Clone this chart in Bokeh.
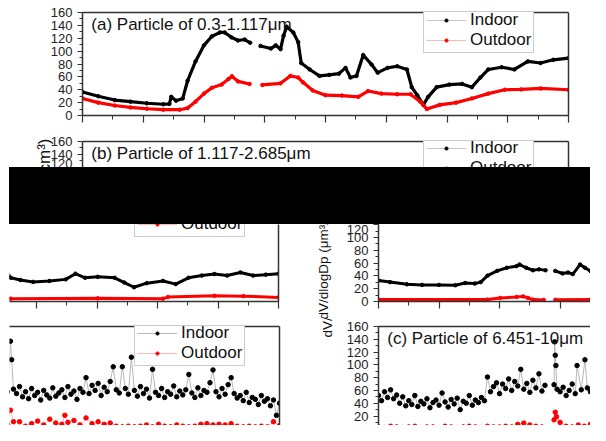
import math
from bokeh.plotting import figure
from bokeh.models import (Range1d, LinearAxis, SingleIntervalTicker, FixedTicker, Label, Title,
                          Legend, LegendItem, ColumnDataSource, Div, Spacer, CustomJSTickFormatter)
from bokeh.layouts import column, row
from bokeh.embed import file_html
from bokeh.resources import INLINE

nan = float("nan")

# ---------------- data ----------------
SERIES = ["Indoor", "Outdoor"]
TITLES = ["(a) Particle of 0.3-1.117\u03bcm", "(b) Particle of 1.117-2.685\u03bcm", "(c) Particle of 6.451-10\u03bcm"]
Y_LABEL = "dV/dlogDp (\u03bcm\u00b3/cm\u00b3)"

A_IN_T = [0.00, 0.26, 0.53, 0.79, 1.06, 1.33, 1.43, 1.46, 1.54, 1.65, 1.73, 1.86, 2.00, 2.13, 2.26, 2.34,
          2.45, 2.56, 2.67, 2.76, 2.80, 2.93, 3.10, 3.18, 3.26, 3.31, 3.36, 3.47, 3.55, 3.60, 3.74, 3.90,
          4.06, 4.22, 4.33, 4.41, 4.51, 4.62, 4.76, 4.86, 5.02, 5.18, 5.34, 5.42, 5.51, 5.61, 5.69, 5.83,
          6.04, 6.25, 6.41, 6.55, 6.68, 6.90, 7.11, 7.33, 7.54, 7.75, 8.00]
A_IN = [36.5, 30, 24, 21.5, 19, 17.5, 18, 29, 23, 26.5, 54, 84, 109, 123, 129, 129,
        121.5, 116.5, 118, 113, nan, 108, 104, 109, 103, 124, 138, 129, 114, 81.5, 71.5, 61.5,
        63, 65, 74, 59, 61.5, 94, 79, 66.5, 74, 76.5, 71.5, 44, 31.5, 16.5, 29, 44,
        48, 49, 44, 59, 71.5, 75, 71.5, 84, 81.5, 86.5, 89]
A_OUT_T = [0.00, 0.26, 0.53, 0.79, 1.06, 1.33, 1.60, 1.73, 1.86, 2.00, 2.13, 2.29, 2.40, 2.46, 2.56, 2.75,
           2.80, 2.96, 3.26, 3.42, 3.55, 3.63, 3.79, 4.00, 4.27, 4.54, 4.70, 4.92, 5.18, 5.40, 5.56, 5.67,
           5.88, 6.15, 6.41, 6.68, 6.95, 7.22, 7.54, 8.00]
A_OUT = [26.5, 20, 15.5, 12.5, 10.5, 9, 9, 11.5, 21.5, 34, 43, 48, 56.5, 61, 53, 49,
         nan, 47.5, 50, 61.5, 59, 51.5, 39, 31.5, 31, 29, 38, 34, 33, 33, 21.5, 10,
         16.5, 20, 26.5, 34, 40, 40.5, 42, 40]

B_IN_T = [0.00, 0.19, 0.47, 0.72, 1.00, 1.27, 1.43, 1.59, 1.69, 1.80, 1.96, 2.12, 2.28, 2.33, 2.44, 2.55,
          2.65, 2.76, 2.82, 2.92, 3.04, 3.13, 3.21, 3.33, 3.41, 3.50, 3.57, 3.73, 3.94, 4.21, 4.48, 4.64,
          4.80, 5.01, 5.29, 5.45, 5.61, 5.82, 6.09, 6.30, 6.51, 6.73, 6.94, 7.15, 7.37, 7.58, 7.79, 8.00]
B_IN = [32.8, 30.3, 26.9, 25.9, 25.9, 25.4, 28.9, 28, 30.3, 40.3, 47.8, 52.7, 55.2, 57.7, 52.7, 48.8,
        50.2, 48.8, nan, 47.8, 43.8, 45.3, 42.8, 57.7, 52.7, 47.8, 37.5, 34, 31, 32.5, 35, 44,
        37.5, 39, 37.5, 30, 22.5, 29, 32.5, 27.5, 37.5, 41, 43.5, 41, 46, 41, 42.5, 44]
B_OUT_T = [0.00, 1.80, 2.01, 2.28, 2.39, 2.47, 2.55, 2.73, 2.82, 2.92, 3.50, 3.57, 5.01, 6.09, 6.17, 6.94, 7.42, 8.00]
B_OUT = [3, 3, 5.5, 7, 8, 5.5, 3, 2.5, nan, 2.7, 3, 4.5, 5, 4.5, 7, 9, 8.5, 6.5]

C_IN_T = [0.00, 0.05, 0.10, 0.15, 0.20, 0.25, 0.30, 0.35, 0.40, 0.45, 0.50, 0.55, 0.60, 0.65, 0.70, 0.75,
          0.80, 0.85, 0.90, 0.95, 1.00, 1.05, 1.10, 1.15, 1.20, 1.25, 1.30, 1.35, 1.40, 1.45, 1.50, 1.55,
          1.60, 1.65, 1.70, 1.75, 1.80, 1.85, 1.90, 1.95, 2.00, 2.05, 2.10, 2.15, 2.20, 2.25, 2.30, 2.35,
          2.40, 2.45, 2.50, 2.55, 2.60, 2.65, 2.70, 2.75, 2.82, 2.90, 2.91, 2.92, 2.93, 2.95, 3.00, 3.05,
          3.10, 3.15, 3.20, 3.25, 3.28, 3.35, 3.41, 3.45, 3.50, 3.55, 3.57, 3.60,
          3.65, 3.70, 3.75, 3.80, 3.85, 3.90, 3.95, 4.00, 4.05, 4.10, 4.15, 4.20, 4.25, 4.30, 4.35, 4.40,
          4.45, 4.50, 4.55, 4.60, 4.65, 4.70, 4.75, 4.80, 4.85, 4.90, 4.95, 5.00, 5.05, 5.10, 5.15, 5.20,
          5.25, 5.30, 5.35, 5.40, 5.45, 5.50, 5.55, 5.60, 5.65, 5.70, 5.75, 5.80, 5.85, 5.90, 5.95, 6.00,
          6.05, 6.10, 6.15, 6.20, 6.25, 6.30, 6.35, 6.40, 6.45, 6.50, 6.55, 6.60, 6.65, 6.70, 6.75, 6.80,
          6.85, 6.90, 6.95, 7.00, 7.05, 7.10, 7.15, 7.20, 7.25, 7.30, 7.35, 7.40, 7.45, 7.50, 7.55, 7.60,
          7.65, 7.70, 7.75, 7.80, 7.85, 7.90, 7.95, 8.00]
C_IN = [52, 44, 58, 49, 61, 47, 53, 40, 50, 36, 44, 38, 52, 35, 43, 39,
        47, 33, 41, 45, 37, 56, 42, 34, 46, 39, 48, 30, 43, 40, 52, 37,
        45, 41, 49, 44, 81, 58, 66, 72, 55, 70, 63, 78, 60, 74, 67, 93,
        62, 71, 57, 76, 64, 86, 59, 68, nan, 69, 136, 115, 99, 62, 58, 65,
        52, 60, 70, 55, 99, 61, 108, 64, 58, 137, 108, 62,
        55, 66, 50, 58, 47, 63, 52, 57, 45, 60, 53, 48, 64, 51, 56, 61,
        49, 66, 54, 59, 46, 63, 57, 80, 55, 68, 60, 71, 52, 65, 58, 74,
        97, 61, 56, 97, 63, 54, 112, 60, 51, 66, 55, 62, 48, 93, 57, 52,
        63, 49, 58, 54, 67, 50, 59, 53, 61, 85, 56, 49, 64, 52, 60, 57,
        72, 92, 58, 50, 63, 54, 69, 80, 55, 48, 52, 44, 57, 41, 49, 46,
        38, 52, 43, 47, 36, 45, 21, 40]
C_OUT_T = [0.0, 0.1, 0.2, 0.3, 0.4, 0.5, 0.6, 0.7, 0.8, 0.9, 1.0, 1.1, 1.2, 1.3, 1.4, 1.5,
           1.6, 1.7, 1.8, 1.9, 2.0, 2.1, 2.2, 2.3, 2.4, 2.5, 2.6, 2.7, 2.82, 2.90, 2.92, 2.94,
           3.0, 3.1, 3.2, 3.3, 3.4, 3.5, 3.55, 3.6, 3.7, 3.8, 3.9, 4.0, 4.1, 4.2, 4.3, 4.4,
           4.45, 4.5, 4.6, 4.7, 4.8, 4.9, 5.0, 5.1, 5.2, 5.3, 5.4, 5.5, 5.6, 5.7, 5.8, 5.9,
           6.0, 6.1, 6.2, 6.3, 6.4, 6.5, 6.6, 6.7, 6.8, 6.9, 7.0, 7.1, 7.2, 7.3, 7.4, 7.5,
           7.6, 7.7, 7.8, 7.9, 8.0]
C_OUT = [3, 2, 4, 3, 2, 3, 4, 2, 3, 3, 2, 4, 3, 2, 3, 4,
         3, 2, 4, 3, 3, 4, 3, 7, 9, 6, 4, 3, nan, 14, 26, 19,
         10, 4, 3, 6, 4, 7, 29, 11, 11, 4, 8, 12, 6, 15, 9, 7,
         21, 10, 13, 6, 17, 8, 11, 7, 9, 4, 3, 4, 3, 4, 6, 3,
         7, 4, 3, 6, 4, 3, 4, 7, 8, 6, 7, 6, 8, 4, 3, 4,
         3, 4, 3, 11, 5]

# ---------------- geometry helpers ----------------
SX = 590 / 606
SY = 425 / 441
FONT = "Liberation Sans"
AXC = "#333333"


def sx(v):
    return int(round(v * SX))


def sy(v):
    return int(round(v * SY))


def make_fig(box, frame, xr, yr):
    x0, y0, x1, y1 = box
    fl, ft, fr, fb = frame
    p = figure(width=sx(x1) - sx(x0), height=sy(y1) - sy(y0),
               x_range=Range1d(*xr), y_range=Range1d(*yr),
               x_axis_type=None, y_axis_type=None,
               output_backend="svg", toolbar_location=None,
               min_border_left=sx(fl) - sx(x0), min_border_right=sx(x1) - sx(fr),
               min_border_top=sy(ft) - sy(y0), min_border_bottom=sy(y1) - sy(fb))
    p.outline_line_color = None
    p.background_fill_color = "white"
    p.border_fill_color = "white"
    return p


def y_axis(p):
    ax = LinearAxis(ticker=SingleIntervalTicker(interval=20, num_minor_ticks=2))
    ax.axis_line_color = AXC
    ax.axis_line_width = 1.5
    ax.major_tick_line_color = AXC
    ax.major_tick_line_width = 1.2
    ax.minor_tick_line_color = AXC
    ax.major_tick_in = 0
    ax.major_tick_out = 5
    ax.minor_tick_in = 0
    ax.minor_tick_out = 3
    ax.major_label_standoff = 5
    ax.major_label_text_font = FONT
    ax.major_label_text_font_size = "13px"
    ax.major_label_text_color = "#222222"
    p.add_layout(ax, "left")


def x_axis(p):
    ax = LinearAxis(ticker=SingleIntervalTicker(interval=1, num_minor_ticks=2),
                    formatter=CustomJSTickFormatter(code="return ''"))
    ax.axis_line_color = AXC
    ax.axis_line_width = 1.5
    ax.major_tick_line_color = AXC
    ax.major_tick_line_width = 1.2
    ax.minor_tick_line_color = AXC
    ax.major_tick_in = 0
    ax.major_tick_out = 7
    ax.minor_tick_in = 0
    ax.minor_tick_out = 4
    ax.major_label_standoff = 0
    p.add_layout(ax, "below")


def edge(p, side):
    ax = LinearAxis(ticker=FixedTicker(ticks=[]))
    ax.axis_line_color = AXC
    ax.axis_line_width = 1.5
    ax.major_label_standoff = 0
    p.add_layout(ax, side)


def thick_series(p, t, v, color, light, width):
    src = ColumnDataSource(dict(t=t, v=v))
    thin = p.line("t", "v", source=src, line_color=light, line_width=1)
    p.line("t", "v", source=src, line_color=color, line_width=width)
    dots = p.scatter("t", "v", source=src, marker="circle", size=3.5, color=color)
    return [thin, dots]


def dot_series(p, t, v, color, light):
    src = ColumnDataSource(dict(t=t, v=v))
    thin = p.line("t", "v", source=src, line_color=light, line_width=1)
    dots = p.scatter("t", "v", source=src, marker="circle", size=4.5, color=color)
    return [thin, dots]


def legend(p, items, frame_lb, box_lb):
    loc = (sx(box_lb[0]) - sx(frame_lb[0]), sy(frame_lb[1]) - sy(box_lb[1]))
    leg = Legend(items=[LegendItem(label=l, renderers=r) for l, r in zip(SERIES, items)],
                 location=loc, orientation="vertical", margin=0, padding=2, spacing=0,
                 border_line_color="#9a9a9a", border_line_width=1,
                 background_fill_color="white", background_fill_alpha=1.0,
                 label_text_font=FONT, label_text_font_size="17px", label_text_color="#111111",
                 glyph_width=40, glyph_height=8, label_height=19, label_standoff=4)
    p.add_layout(leg)


def text(p, x, y, s, size):
    p.add_layout(Label(x=x, y=y, text=s, text_font=FONT, text_font_size=size,
                       text_color="#111111", text_align="left", text_baseline="middle"))


def side_label(p, align, offset, standoff, size, valign="top"):
    p.add_layout(Title(text=Y_LABEL, align=align, offset=offset, standoff=standoff,
                       vertical_align=valign, text_font=FONT, text_font_size=size,
                       text_font_style="normal", text_color="#111111"), "left")


# ---------------- panel (a) ----------------
pa = make_fig((0, 0, 606, 133), (84, 12.5, 583, 119), (0, 8), (0, 160))
y_axis(pa); x_axis(pa); edge(pa, "above"); edge(pa, "right")
ra_in = thick_series(pa, A_IN_T, A_IN, "#000000", "#c4c4c4", 3.2)
ra_out = thick_series(pa, A_OUT_T, A_OUT, "#ff0000", "#ffb8b8", 3.2)
legend(pa, [ra_in, ra_out], (84, 119), (434, 55))
text(pa, 0.145, 141.5, TITLES[0], "17px")

# ---------------- panel (b), top strip ----------------
pb = make_fig((0, 133, 606, 173), (84, 146, 583, 173), (0, 8), (119.4, 160))
y_axis(pb); edge(pb, "above"); edge(pb, "right")
rb_in = thick_series(pb, B_IN_T, B_IN, "#000000", "#c4c4c4", 3.0)
rb_out = thick_series(pb, B_OUT_T, B_OUT, "#ff0000", "#ffb8b8", 3.0)
legend(pb, [rb_in, rb_out], (84, 173), (434, 188))
text(pb, 0.145, 140.5, TITLES[1], "17px")
side_label(pb, "right", -3, -14, "17px", valign="middle")

# ---------------- black band ----------------
band = Div(text="", width=sx(606) - sx(9), height=sy(232) - sy(173), margin=0,
           styles={"background-color": "#000000"})

# ---------------- row 3 ----------------
l3 = make_fig((9, 232, 300, 330), (9, 232, 286, 313), (8 - 277 / 62.25, 8), (0, 121.8))
x_axis(l3); edge(l3, "right")
l3_in = thick_series(l3, B_IN_T, B_IN, "#000000", "#c4c4c4", 3.0)
l3_out = thick_series(l3, B_OUT_T, B_OUT, "#ff0000", "#ffb8b8", 3.0)
legend(l3, [l3_in, l3_out], (9, 313), (138, 247))

r3 = make_fig((300, 232, 606, 330), (388, 232, 606, 312), (0, 218 / 62.25), (0, 120.3))
y_axis(r3); x_axis(r3)
thick_series(r3, B_IN_T, B_IN, "#000000", "#c4c4c4", 3.0)
thick_series(r3, B_OUT_T, B_OUT, "#ff0000", "#ffb8b8", 3.0)
side_label(r3, "left", sy(312) - sy(331), 22, "13.5px")

# ---------------- row 4 ----------------
l4 = make_fig((9, 330, 300, 441), (9, 338, 287, 441), (8 - 278 / 62.25, 8), (5.1, 160))
edge(l4, "above"); edge(l4, "right")
l4_out = dot_series(l4, C_OUT_T, C_OUT, "#ff0000", "#ffb8b8")
l4_in = dot_series(l4, C_IN_T, C_IN, "#000000", "#b8b8b8")
legend(l4, [l4_in, l4_out], (9, 441), (138, 380))

r4 = make_fig((300, 330, 606, 441), (388, 337, 606, 441), (0, 218 / 62.25), (5.2, 160))
y_axis(r4); edge(r4, "above")
dot_series(r4, C_OUT_T, C_OUT, "#ff0000", "#ffb8b8")
dot_series(r4, C_IN_T, C_IN, "#000000", "#b8b8b8")
text(r4, 0.145, 140.7, TITLES[2], "17px")
side_label(r4, "left", sy(441) - sy(350), 14, "13.5px")

# ---------------- layout ----------------
gap = Spacer(width=sx(9), height=sy(441) - sy(173), margin=0)
lower = column(band, row(l3, r3, spacing=0), row(l4, r4, spacing=0), spacing=0)
layout = column(pa, pb, row(gap, lower, spacing=0), spacing=0)

open("out.html", "w").write(file_html(layout, INLINE))
